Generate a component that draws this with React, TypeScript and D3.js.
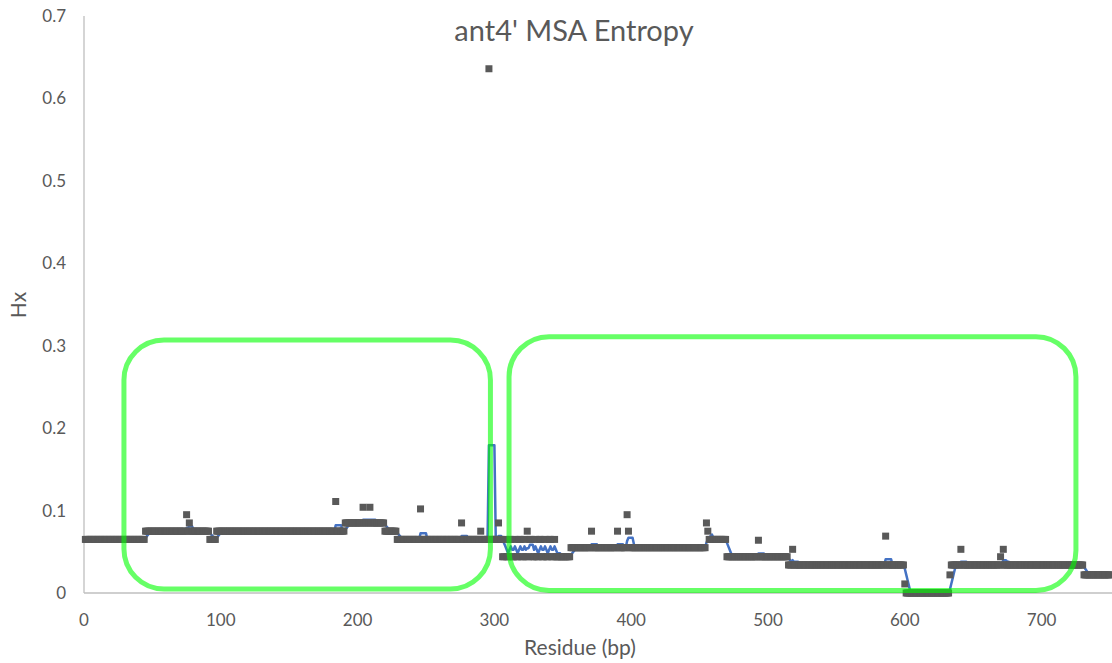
import * as d3 from 'd3';

// Entropy per residue, stored as runs of equal value [first residue, last residue, Hx]
const levelRuns: [number, number, number][] = [
  [1, 44, 0.065],
  [45, 91, 0.075],
  [92, 96, 0.065],
  [97, 190, 0.075],
  [191, 219, 0.085],
  [220, 228, 0.075],
  [229, 305, 0.065],
  [348, 355, 0.044],
  [356, 454, 0.055],
  [457, 469, 0.065],
  [470, 514, 0.044],
  [515, 600, 0.034],
  [601, 633, 0],
  [634, 730, 0.034],
  [731, 750, 0.022],
];

// residues 306..347 flip between two levels
const mixedStart = 306;
const mixedValues = [
  0.044, 0.044, 0.065, 0.044, 0.044, 0.065, 0.065, 0.044, 0.044, 0.065,
  0.044, 0.044, 0.065, 0.065, 0.044, 0.044, 0.065, 0.044, 0.075, 0.044,
  0.065, 0.065, 0.044, 0.044, 0.065, 0.044, 0.044, 0.065, 0.065, 0.044,
  0.044, 0.065, 0.044, 0.044, 0.065, 0.065, 0.044, 0.044, 0.065, 0.044,
  0.044, 0.044,
];

// single residues off their run [residue, Hx]
const singlePoints: [number, number][] = [
  [75, 0.095], [77, 0.085], [184, 0.111], [204, 0.104], [209, 0.104],
  [246, 0.102], [276, 0.085], [290, 0.075], [296, 0.636], [303, 0.085],
  [371, 0.075], [390, 0.075], [397, 0.095], [398, 0.075], [455, 0.085],
  [456, 0.075], [493, 0.064], [518, 0.053], [586, 0.069], [600, 0.011],
  [633, 0.022], [641, 0.053], [670, 0.044], [672, 0.053],
];

const xTicks = [0, 100, 200, 300, 400, 500, 600, 700];
const yTicks = [0, 0.1, 0.2, 0.3, 0.4, 0.5, 0.6, 0.7];

// highlighted regions, in data units [x0, x1, yBottom, yTop]
const highlightBoxes: [number, number, number, number][] = [
  [29.2, 297.1, 0.005, 0.307],
  [310.7, 725.1, 0.003, 0.311],
];

const MA_PERIOD = 5;

const W = 1112;
const H = 663;
const FONT = 'Lato, "Open Sans", sans-serif';
const TEXT = '#595959';

function buildSeries() {
  const byResidue = new Map<number, number>();
  levelRuns.forEach(([a, b, v]) => {
    for (let r = a; r <= b; r++) byResidue.set(r, v);
  });
  mixedValues.forEach((v, i) => byResidue.set(mixedStart + i, v));
  singlePoints.forEach(([r, v]) => byResidue.set(r, v));
  return Array.from(byResidue.entries())
    .map(([x, y]) => ({ x, y }))
    .sort((p, q) => p.x - q.x);
}

export default function App() {
  const points = buildSeries();

  const x = d3.scaleLinear().domain([0, 750]).range([84, 1110]);
  const y = d3.scaleLinear().domain([0, 0.7]).range([593, 16]);

  // trailing moving average, like Excel's trendline
  const avg = points.slice(MA_PERIOD - 1).map((p, i) => ({
    x: p.x,
    y: d3.mean(points.slice(i, i + MA_PERIOD), (d) => d.y) as number,
  }));
  const avgPath = d3
    .line<{ x: number; y: number }>()
    .x((d) => x(d.x))
    .y((d) => y(d.y))(avg);

  const m = 7;

  return (
    <svg
      width={W}
      height={H}
      style={{ position: 'absolute', left: 0, top: 0, background: '#fff' }}
      fontFamily={FONT}
    >
      <line x1={x(0)} x2={x(0)} y1={y(0.7)} y2={y(0)} stroke="#bfbfbf" strokeWidth={1.3} />
      <line x1={x(0)} x2={W} y1={y(0)} y2={y(0)} stroke="#bfbfbf" strokeWidth={1.3} />

      {yTicks.map((t) => (
        <text key={t} x={66} y={y(t)} dy="0.35em" textAnchor="end" fontSize={17} fill={TEXT}>
          {d3.format('~g')(t)}
        </text>
      ))}
      {xTicks.map((t) => (
        <text key={t} x={x(t)} y={626} textAnchor="middle" fontSize={17} fill={TEXT}>
          {t}
        </text>
      ))}

      <text x={574} y={41} textAnchor="middle" fontSize={29} fill={TEXT}>
        ant4' MSA Entropy
      </text>
      <text x={580} y={655} textAnchor="middle" fontSize={21} fill={TEXT}>
        Residue (bp)
      </text>
      <text
        transform="translate(26,305) rotate(-90)"
        textAnchor="middle"
        fontSize={21}
        fill={TEXT}
      >
        Hx
      </text>

      <path d={avgPath ?? ''} fill="none" stroke="#4472c4" strokeWidth={2.5} strokeLinejoin="round" />

      {points.map((p) => (
        <rect key={p.x} x={x(p.x) - m / 2} y={y(p.y) - m / 2} width={m} height={m} fill="#595959" />
      ))}

      {highlightBoxes.map(([x0, x1, yb, yt], i) => (
        <rect
          key={i}
          x={x(x0)}
          y={y(yt)}
          width={x(x1) - x(x0)}
          height={y(yb) - y(yt)}
          rx={40}
          fill="none"
          stroke="#00ff00"
          strokeOpacity={0.6}
          strokeWidth={5}
        />
      ))}
    </svg>
  );
}
